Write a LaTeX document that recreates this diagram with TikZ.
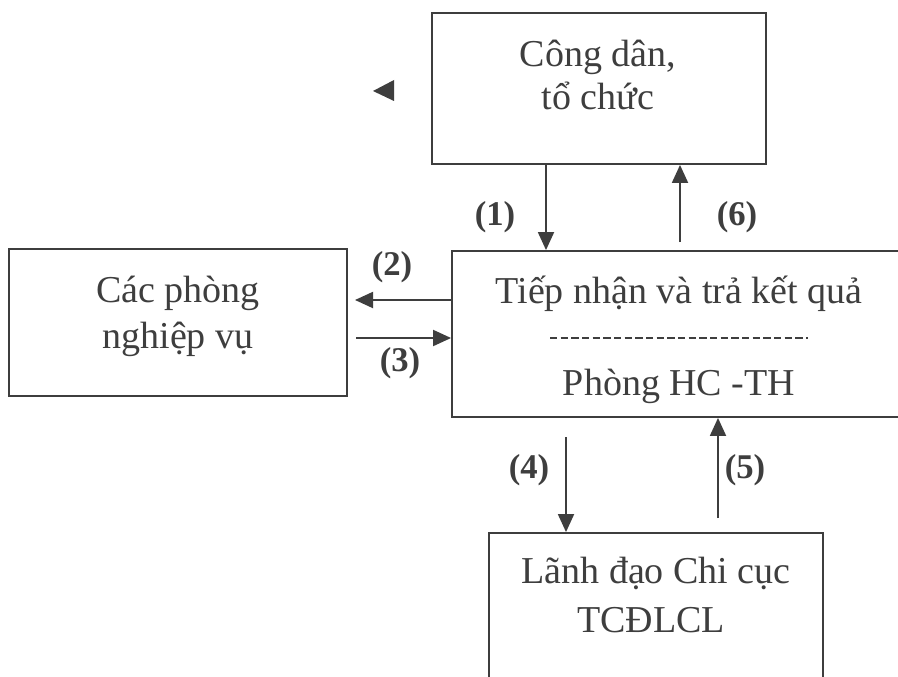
\documentclass[tikz,border=0pt]{standalone}
\usepackage{fontspec}
\setmainfont{Liberation Serif}
\usetikzlibrary{arrows.meta}
\definecolor{ink}{RGB}{62,62,62}
\tikzset{
  box/.style={draw=ink, line width=1.4pt, rectangle, inner sep=0pt},
  arr/.style={draw=ink, line width=1.4pt, -{Triangle[length=13.5pt,width=12pt]}},
  lbl/.style={anchor=base, text=ink, inner sep=0pt, font=\fontsize{28.5}{34}\selectfont},
  num/.style={text=ink, inner sep=0pt, font=\fontsize{26}{30}\selectfont\bfseries},
}
\begin{document}
\begin{tikzpicture}[x=0.75pt, y=-0.75pt]
  % page frame and clipping window
  \fill[white] (0,0) rectangle (898,677);
  \clip (0,0) rectangle (898,677);

  % boxes
  \node[box, minimum width=250.5pt, minimum height=113.25pt] (top) at (599,88.5) {};
  \node[box, minimum width=253.5pt, minimum height=110.25pt] (dept) at (178,322.5) {};
  \node[box, minimum width=340.5pt, minimum height=124.5pt] (mid) at (679,334) {};
  \node[box, minimum width=250.5pt, minimum height=113.25pt] (lead) at (656,608.5) {};

  % box texts
  \node[lbl] (t1) at (598,67) {Công dân,};
  \node[lbl] (t2) at (598,110) {tổ chức};
  \node[lbl] (d1) at (178,302) {Các phòng};
  \node[lbl] (d2) at (178,348) {nghiệp vụ};
  \node[lbl] (m1) at (679,303) {Tiếp nhận và trả kết quả};
  \node[lbl] (m2) at (679,395) {Phòng HC -TH};
  \node[lbl] (l1) at (656,583) {Lãnh đạo Chi cục};
  \node[lbl] (l2) at (651,632) {TCĐLCL};

  % separator inside the reception box
  \draw[ink, line width=0.8pt, dash pattern=on 5.5pt off 2.5pt] (550,338) -- (808,338);

  % small marker left of the citizen box
  \fill[ink] (373,91) -- (394,80) -- (394,101) -- cycle;

  % connector anchors
  \coordinate (c1) at (546,0);
  \coordinate (s6) at (680,242);
  \coordinate (e2) at (355,300);
  \coordinate (s3) at (356,338);
  \coordinate (s4) at (566,437);
  \coordinate (s5) at (718,518);

  % connectors
  \draw[arr] (top.south -| c1) -- (mid.north -| c1);
  \draw[arr] (s6) -- (top.south -| s6);
  \draw[arr] (mid.west |- e2) -- (e2);
  \draw[arr] (s3) -- (mid.west |- s3);
  \draw[arr] (s4) -- (lead.north -| s4);
  \draw[arr] (s5) -- (mid.south -| s5);

  % step numbers
  \node[num] (n1) at (495,217) {(1)};
  \node[num] (n6) at (737,217) {(6)};
  \node[num] (n2) at (392,267) {(2)};
  \node[num] (n3) at (400,363) {(3)};
  \node[num] (n4) at (529,470) {(4)};
  \node[num] (n5) at (745,470) {(5)};
\end{tikzpicture}
\end{document}
